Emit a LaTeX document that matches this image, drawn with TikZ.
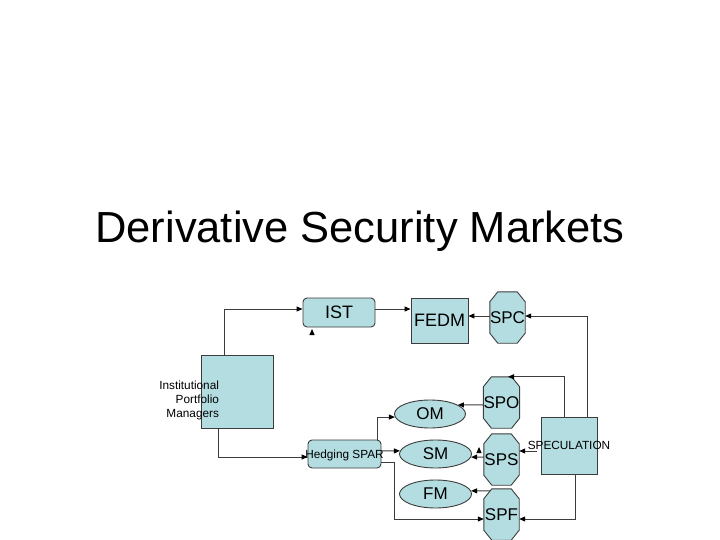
\documentclass[tikz,border=0pt]{standalone}
\usepackage{fontspec}
\setmainfont{Liberation Sans}
\usetikzlibrary{arrows.meta,shapes.geometric,backgrounds}
\definecolor{boxfill}{RGB}{180,221,225}
\definecolor{edge}{RGB}{60,60,60}
\begin{document}
\begin{tikzpicture}[x=1pt,y=-1pt,
  box/.style={draw=edge,fill=boxfill,line width=0.9pt,inner sep=0pt},
  rbox/.style={box,rounded corners=4pt},
  oval/.style={box,ellipse},
  octnode/.style={inner sep=0pt,minimum width=35pt,minimum height=51pt},
  octshape/.style={draw=edge,fill=boxfill,line width=0.9pt},
  big/.style={font=\fontsize{18}{20}\selectfont},
  mid/.style={font=\fontsize{17}{19}\selectfont},
  small/.style={font=\fontsize{11.8}{14}\selectfont},
  conn/.style={draw=edge,line width=1pt,-{Triangle[length=6pt,width=5pt,color=black]}},
]
\useasboundingbox (0,0) rectangle (720,540);

\node[font=\fontsize{43.5}{50}\selectfont,anchor=base] (title) at (360,242) {Derivative Security Markets};

% boxes
\node[box,minimum width=72pt,minimum height=73pt] (inst) at (237,391.5) {};
\node[small,align=right,anchor=east] (instlbl) at (222.5,400) {Institutional\\Portfolio\\Managers};
\node[rbox,minimum width=72pt,minimum height=29pt,big] (ist) at (339,312.5) {IST};
\node[box,minimum width=57pt,minimum height=45pt,big] (fedm) at (439.5,320.5) {FEDM};
\node[rbox,minimum width=73pt,minimum height=28pt,label={[small,yshift=-1.5pt]center:Hedging SPAR}] (hedging) at (344.5,454) {};
\node[box,minimum width=56pt,minimum height=57pt,label={[small]center:SPECULATION}] (spec) at (569,445.5) {};

% octagons
\node[octnode,mid] (spc) at (507.5,317.5) {SPC};
\node[octnode,mid] (spo) at (501.5,402.5) {SPO};
\node[octnode,mid] (sps) at (501.5,459.5) {SPS};
\node[octnode,mid] (spf) at (501.5,514.5) {SPF};
\begin{scope}[on background layer]
\foreach \n in {spc,spo,sps,spf}{
  \filldraw[octshape] ([xshift=8pt]\n.north west) -- ([xshift=-8pt]\n.north east)
    -- ([yshift=-10pt]\n.north east) -- ([yshift=10pt]\n.south east)
    -- ([xshift=-8pt]\n.south east) -- ([xshift=8pt]\n.south west)
    -- ([yshift=10pt]\n.south west) -- ([yshift=-10pt]\n.north west) -- cycle;
}
\end{scope}

% ellipses
\node[oval,minimum width=71pt,minimum height=28pt,mid] (om) at (430,414) {OM};
\node[oval,minimum width=72pt,minimum height=28pt,mid] (sm) at (435.5,454) {SM};
\node[oval,minimum width=72pt,minimum height=28pt,mid] (fm) at (435.5,494) {FM};

% connectors
\draw[conn] ([xshift=-13pt]inst.north) |- ([yshift=3.5pt]ist.west);
\draw[conn] ([yshift=3.5pt]ist.east) -- ([yshift=3.5pt]ist.east -| fedm.west);
\draw[conn] ([yshift=1.5pt]spc.west) -- ([yshift=1.5pt]spc.west -| fedm.east);
\draw[conn] ([xshift=18pt]spec.north) |- ([yshift=1.5pt]spc.east);
\draw[conn] ([xshift=-5pt]spec.north) |- ([xshift=6.5pt]spo.north);
\draw[conn] ([yshift=-2.5pt]spo.west) -- (om.18);
\draw[conn] ([xshift=-4pt]hedging.north east) |- (om.185);
\draw[conn] ([xshift=-19pt]inst.south) |- ([yshift=-3pt]hedging.west);
\draw[conn] ([yshift=3pt]hedging.east) -- (sm.175);
\draw[conn] ([yshift=2.5pt]sps.west) -- (sm.355);
\draw[conn] ([xshift=-4pt,yshift=-5.5pt]spec.west) -- ([yshift=8.5pt]sps.east);
\draw[conn] ([xshift=6pt]spec.south) |- ([yshift=-4.5pt]spf.east);
\draw[conn] ([xshift=6.5pt,yshift=-2pt]spf.north west) -- (fm.5);
\draw[conn] ([yshift=-8pt]hedging.east) -- ++(13,0) |- ([yshift=-4.5pt]spf.west);

% stray arrowheads
\coordinate (m1) at (312,334);
\coordinate (m2) at (479,452);
\draw[conn] (m1) -- ++(0,-5);
\draw[conn] (m2) -- ++(0,-5);
\end{tikzpicture}
\end{document}
